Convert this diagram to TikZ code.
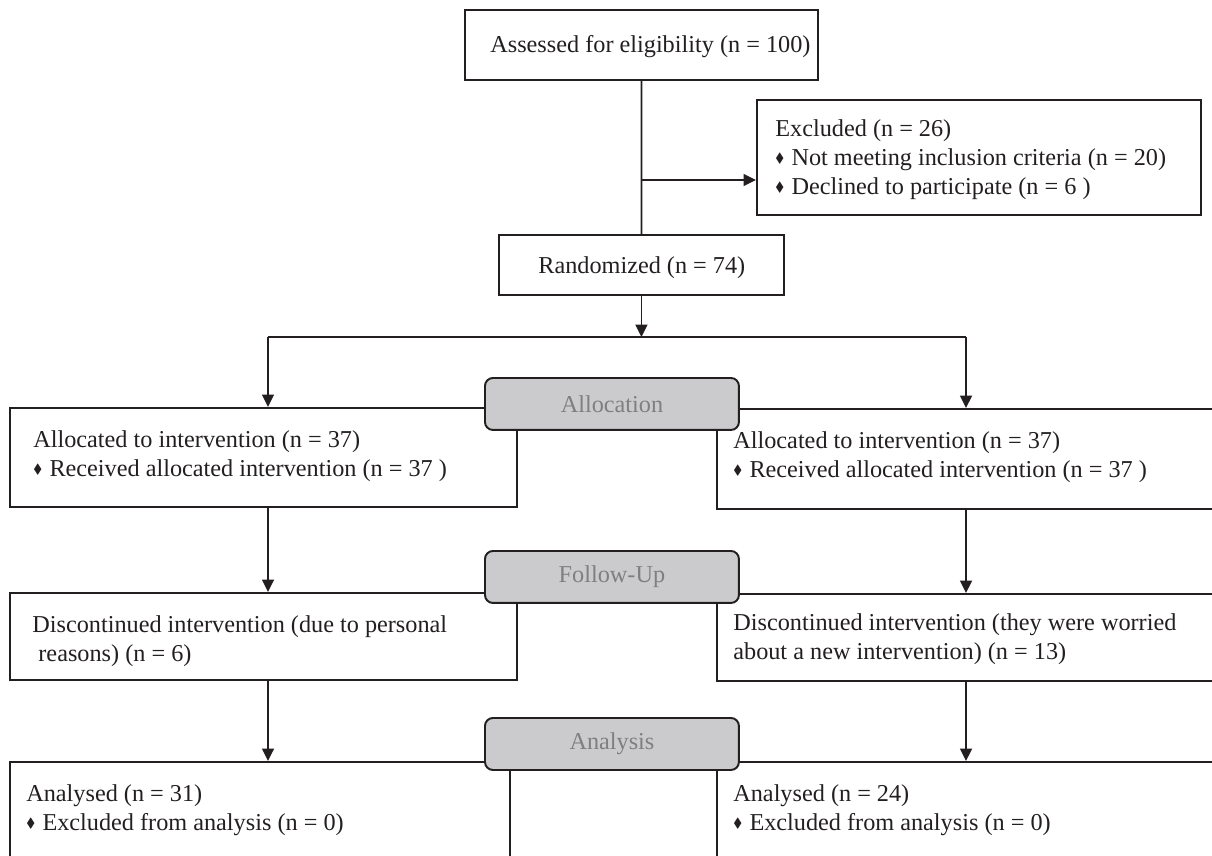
\documentclass[tikz,border=0pt]{standalone}
\usepackage{amssymb}
\usepackage{graphicx}
\usepackage{fontspec}
\setmainfont{Liberation Serif}
\usetikzlibrary{arrows.meta}

\definecolor{ink}{HTML}{231F20}
\definecolor{stagefill}{HTML}{CBCBCD}
\definecolor{stagetext}{HTML}{7F7F7F}
\newcommand{\dia}{\raisebox{0.12em}{\scalebox{0.55}{$\blacklozenge$}}\hspace{0.3em}}

\begin{document}
\begin{tikzpicture}[x=0.02cm, y=-0.02cm, font=\fontsize{13.8}{16.5}\selectfont,
    frame/.style={draw=ink, line width=1.1pt, anchor=north west, inner sep=0pt},
    txt/.style={anchor=base west, align=left, inner sep=0pt, text=ink},
    stage/.style={draw=ink, line width=1.1pt, fill=stagefill, rounded corners=0.16cm, text=stagetext,
        minimum width=5.08cm, minimum height=1.04cm, anchor=north west, inner sep=0pt},
    arr/.style={draw=ink, line width=1pt, -{Triangle[length=0.25cm, width=0.24cm]}},
    link/.style={draw=ink, line width=1pt}]
    \useasboundingbox (0,0) rectangle (1212,855);
    \clip (0,0) rectangle (1212,855);
    \fill[white] (0,0) rectangle (1212,855);

    % enrolment (text nodes sit on the baseline of their last line)
    \node[frame, minimum width=7.06cm, minimum height=1.4cm] (assess) at (464,9) {};
    \node[txt] (assess-t) at (490,53) {Assessed for eligibility (n = 100)};
    \node[frame, minimum width=8.88cm, minimum height=2.3cm] (excl) at (756,99) {};
    \node[txt] (excl-t) at (775,194) {Excluded (n = 26)\\ \dia Not meeting inclusion criteria (n = 20)\\ \dia Declined to participate (n = 6 )};
    \node[frame, minimum width=5.7cm, minimum height=1.2cm] (rand) at (498,234) {};
    \node[txt] (rand-t) at (538,273) {Randomized (n = 74)};

    % two arms
    \node[frame, minimum width=10.14cm, minimum height=1.98cm] (allocL) at (9,407) {};
    \node[txt] (allocL-t) at (33,476) {Allocated to intervention (n = 37)\\ \dia Received allocated intervention (n = 37~)};
    \node[frame, minimum width=12cm, minimum height=2cm] (allocR) at (716,408) {};
    \node[txt] (allocR-t) at (733,477) {Allocated to intervention (n = 37)\\ \dia Received allocated intervention (n = 37~)};

    \node[frame, minimum width=10.14cm, minimum height=1.74cm] (discL) at (9,592) {};
    \node[txt] (discL-t) at (32,661) {Discontinued intervention (due to personal\\ \hspace{0.25em}reasons) (n = 6)};
    \node[frame, minimum width=12cm, minimum height=1.74cm] (discR) at (716,593) {};
    \node[txt] (discR-t) at (733,659) {Discontinued intervention (they were worried\\ about a new intervention) (n = 13)};

    \node[frame, minimum width=10cm, minimum height=2.4cm] (analL) at (9,761) {};
    \node[txt] (analL-t) at (26,830) {Analysed (n = 31)\\ \dia Excluded from analysis (n = 0)};
    \node[frame, minimum width=12cm, minimum height=2.4cm] (analR) at (716,761) {};
    \node[txt] (analR-t) at (733,830) {Analysed (n = 24)\\ \dia Excluded from analysis (n = 0)};

    % connectors
    \coordinate (brk) at (641,180);
    \coordinate (splitL) at (268,337);
    \coordinate (splitR) at (966,337);
    \draw[link] (assess) -- (rand);
    \draw[arr] (brk) -- (brk -| excl.west);
    \draw[arr] (rand) -- (rand.south |- splitL);
    \draw[link] (splitL) -- (splitR);
    \draw[arr] (splitL) -- (splitL |- allocL.north);
    \draw[arr] (splitR) -- (splitR |- allocR.north);
    \draw[arr] (allocL.south -| splitL) -- (discL.north -| splitL);
    \draw[arr] (allocR.south -| splitR) -- (discR.north -| splitR);
    \draw[arr] (discL.south -| splitL) -- (analL.north -| splitL);
    \draw[arr] (discR.south -| splitR) -- (analR.north -| splitR);

    % stage labels
    \node[stage] (alloc) at (484,377) {Allocation};
    \node[stage] (follow) at (484,550) {Follow-Up};
    \node[stage] (analysis) at (484,717) {Analysis};
\end{tikzpicture}
\end{document}
